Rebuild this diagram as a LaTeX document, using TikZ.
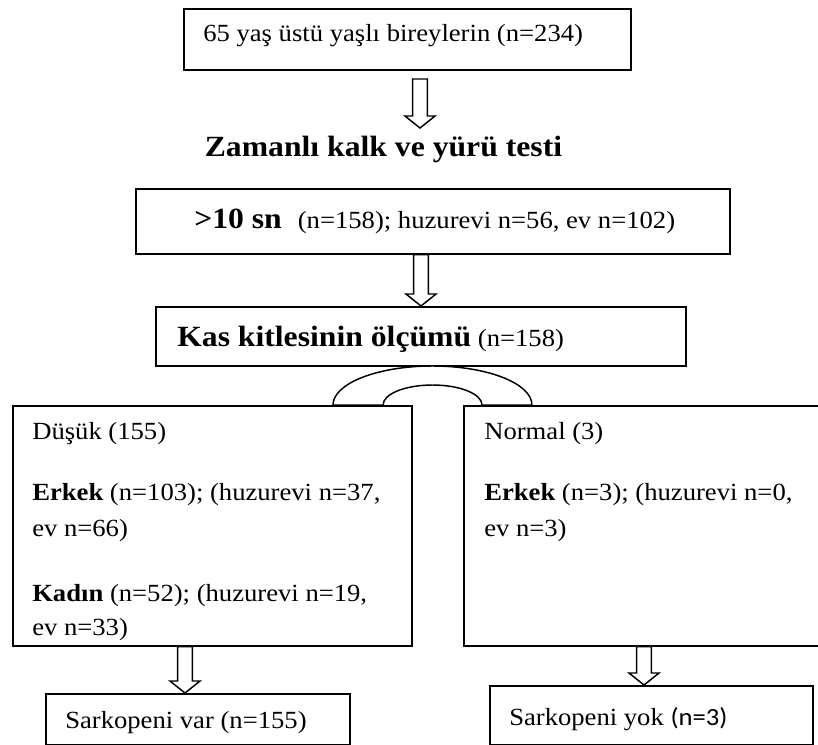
\documentclass[tikz,border=0pt]{standalone}
\usepackage{fontspec}
\setmainfont{Liberation Serif}[FakeStretch=1.08]
\newfontfamily\carlito{Carlito}[FakeStretch=1.08]
\usetikzlibrary{calc}

\newcommand{\bigbf}[1]{{\fontsize{22}{26}\selectfont\bfseries #1}}
% hollow block arrow pointing down, from #1 to #2
\newcommand{\hollowarrow}[2]{%
  \draw[hollow] let \p1=(#1), \p2=(#2) in
    (\x1-5.6pt,\y1) -- (\x1+5.6pt,\y1) -- (\x1+5.6pt,\y2+9pt) -- (\x1+11.3pt,\y2+9pt)
    -- (\x1,\y2) -- (\x1-11.3pt,\y2+9pt) -- (\x1-5.6pt,\y2+9pt) -- cycle;}

\begin{document}
\begin{tikzpicture}[x=0.75pt, y=-0.75pt,
    box/.style = {draw, line width=1.3pt, inner sep=0pt, anchor=north west},
    txt/.style = {inner sep=0pt, anchor=base west, font=\fontsize{18.5}{21}\selectfont},
    hollow/.style = {draw, fill=white, line width=1.1pt, line join=miter}]
    \clip (0,0) rectangle (818,745);
    \fill[white] (0,0) rectangle (818,745);

    % boxes
    \node[box, minimum width=335.25pt, minimum height=45.75pt] (start) at (183,8) {};
    \node[box, minimum width=445.5pt, minimum height=48.75pt] (tug) at (135,188) {};
    \node[box, minimum width=397.5pt, minimum height=44.25pt] (kas) at (155,306) {};
    \node[box, minimum width=299.25pt, minimum height=180pt] (dusuk) at (12,405) {};
    \node[box, minimum width=271.5pt, minimum height=180pt] (normal) at (463,405) {};
    \node[box, minimum width=228pt, minimum height=38.25pt] (var) at (45,693) {};
    \node[box, minimum width=242.25pt, minimum height=44.25pt] (yok) at (489,685) {};

    % texts
    \node[txt] (t1) at (203,42) {65 yaş üstü yaşlı bireylerin (n=234)};
    \node[txt, anchor=base] (title) at (383.5,157) {\bigbf{Zamanlı kalk ve yürü testi}};
    \node[txt] (t2) at (194,229) {\bigbf{>10 sn}\hspace{12pt}(n=158); huzurevi n=56, ev n=102)};
    \node[txt] (t3) at (177,347) {\bigbf{Kas kitlesinin ölçümü} (n=158)};

    \node[txt] (d1) at (32,440) {Düşük (155)};
    \node[txt] (d2) at (32,500) {\textbf{Erkek} (n=103); (huzurevi n=37,};
    \node[txt] (d3) at (32,536) {ev n=66)};
    \node[txt] (d4) at (32,601) {\textbf{Kadın} (n=52); (huzurevi n=19,};
    \node[txt] (d5) at (32,635) {ev n=33)};

    \node[txt] (n1) at (484,440) {Normal (3)};
    \node[txt] (n2) at (484,500) {\textbf{Erkek} (n=3); (huzurevi n=0,};
    \node[txt] (n3) at (484,536) {ev n=3)};

    \node[txt] (v1) at (65,728) {Sarkopeni var (n=155)};
    \node[txt] (y1) at (509,725) {Sarkopeni yok {\carlito (n=3)}};

    % split band over the two result boxes
    \draw[hollow] (333,0 |- dusuk.north) arc[start angle=180, end angle=0, x radius=74.6pt, y radius=29.25pt]
        -- (482,0 |- dusuk.north) arc[start angle=0, end angle=180, x radius=37.1pt, y radius=15pt] -- cycle;

    % arrows
    \coordinate (a1s) at (420,79);
    \coordinate (a1e) at (420,128);
    \hollowarrow{a1s}{a1e}
    \hollowarrow{421,0 |- tug.south}{421,0 |- kas.north}
    \hollowarrow{185,0 |- dusuk.south}{185,0 |- var.north}
    \hollowarrow{644,0 |- normal.south}{644,0 |- yok.north}
\end{tikzpicture}
\end{document}
